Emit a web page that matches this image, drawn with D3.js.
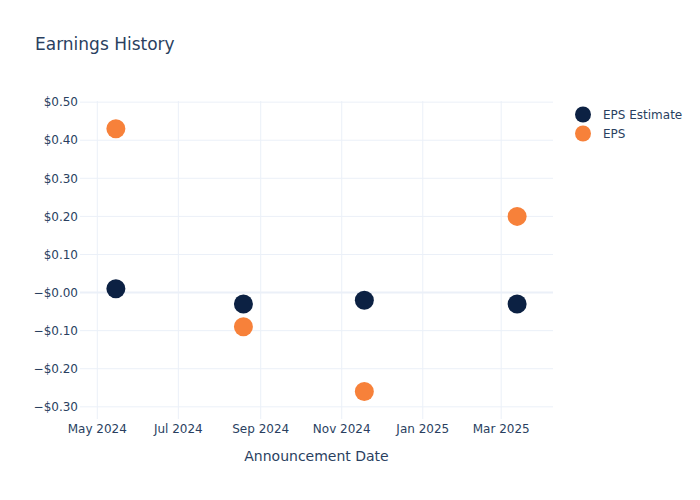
<!DOCTYPE html>
<html>
<head>
<meta charset="utf-8">
<script src="https://cdn.jsdelivr.net/npm/d3@7"></script>
<style>
  body { margin: 0; background: #fff; }
  text { font-family: "DejaVu Sans", Verdana, sans-serif; fill: #2a3f5f; }
</style>
</head>
<body>
<script>
const width = 700;
const height = 500;

// data
const dates = ['2024-05-15', '2024-08-19', '2024-11-18', '2025-03-13'];
const epsEstimate = [0.01, -0.03, -0.02, -0.03];
const eps = [0.43, -0.09, -0.26, 0.20];

const yTicks = [0.5, 0.4, 0.3, 0.2, 0.1, 0, -0.1, -0.2, -0.3];
const yTickLabels = ['$0.50', '$0.40', '$0.30', '$0.20', '$0.10', '\u2212$0.00', '\u2212$0.10', '\u2212$0.20', '\u2212$0.30'];
const xTicks = ['2024-05-01', '2024-07-01', '2024-09-01', '2024-11-01', '2025-01-01', '2025-03-01'];

const seriesNames = ['EPS Estimate', 'EPS'];
const seriesColors = ['#0c2143', '#f7813a'];

const parse = d3.utcParse('%Y-%m-%d');

const plotLeft = 80, plotRight = 553, plotTop = 101, plotBottom = 419;

const svg = d3.select('body')
    .append('svg')
    .attr('width', width)
    .attr('height', height)
    .attr('xmlns', 'http://www.w3.org/2000/svg');

const x = d3.scaleUtc()
    .domain([parse('2024-04-18'), parse('2025-04-09')])
    .range([plotLeft, plotRight]);

const y = d3.scaleLinear()
    .domain([-0.332, 0.503])
    .range([plotBottom, plotTop]);

// grid
svg.append('g')
    .selectAll('line')
    .data(xTicks)
    .enter()
    .append('line')
    .attr('x1', d => x(parse(d)))
    .attr('x2', d => x(parse(d)))
    .attr('y1', plotTop)
    .attr('y2', plotBottom)
    .style('stroke', '#ebf0f8')
    .style('stroke-width', 1);

svg.append('g')
    .selectAll('line')
    .data(yTicks)
    .enter()
    .append('line')
    .attr('x1', plotLeft)
    .attr('x2', plotRight)
    .attr('y1', d => y(d))
    .attr('y2', d => y(d))
    .style('stroke', '#ebf0f8')
    .style('stroke-width', d => d === 0 ? 2 : 1);

// axis labels
svg.append('g')
    .selectAll('text')
    .data(yTicks)
    .enter()
    .append('text')
    .attr('x', plotLeft - 2)
    .attr('y', d => y(d))
    .attr('dy', '0.35em')
    .attr('text-anchor', 'end')
    .style('font-size', '12px')
    .text((d, i) => yTickLabels[i]);

const fmt = d3.utcFormat('%b %Y');
svg.append('g')
    .selectAll('text')
    .data(xTicks)
    .enter()
    .append('text')
    .attr('x', d => x(parse(d)))
    .attr('y', 433)
    .attr('text-anchor', 'middle')
    .style('font-size', '12px')
    .text(d => fmt(parse(d)));

svg.append('text')
    .attr('x', (plotLeft + plotRight) / 2)
    .attr('y', 461)
    .attr('text-anchor', 'middle')
    .style('font-size', '14px')
    .text('Announcement Date');

svg.append('text')
    .attr('x', 35)
    .attr('y', 50)
    .style('font-size', '17px')
    .text('Earnings History');

// points
[epsEstimate, eps].forEach((vals, s) => {
    svg.append('g')
        .selectAll('circle')
        .data(vals)
        .enter()
        .append('circle')
        .attr('cx', (d, i) => x(parse(dates[i])))
        .attr('cy', d => y(d))
        .attr('r', 9.5)
        .style('fill', seriesColors[s]);
});

// legend
const legend = svg.append('g')
    .selectAll('g')
    .data(seriesNames)
    .enter()
    .append('g')
    .attr('transform', (d, i) => 'translate(583,' + (114.5 + i * 19) + ')');

legend.append('circle')
    .attr('r', 8)
    .style('fill', (d, i) => seriesColors[i]);

legend.append('text')
    .attr('x', 20)
    .attr('dy', '0.35em')
    .style('font-size', '12px')
    .text(d => d);
</script>
</body>
</html>
